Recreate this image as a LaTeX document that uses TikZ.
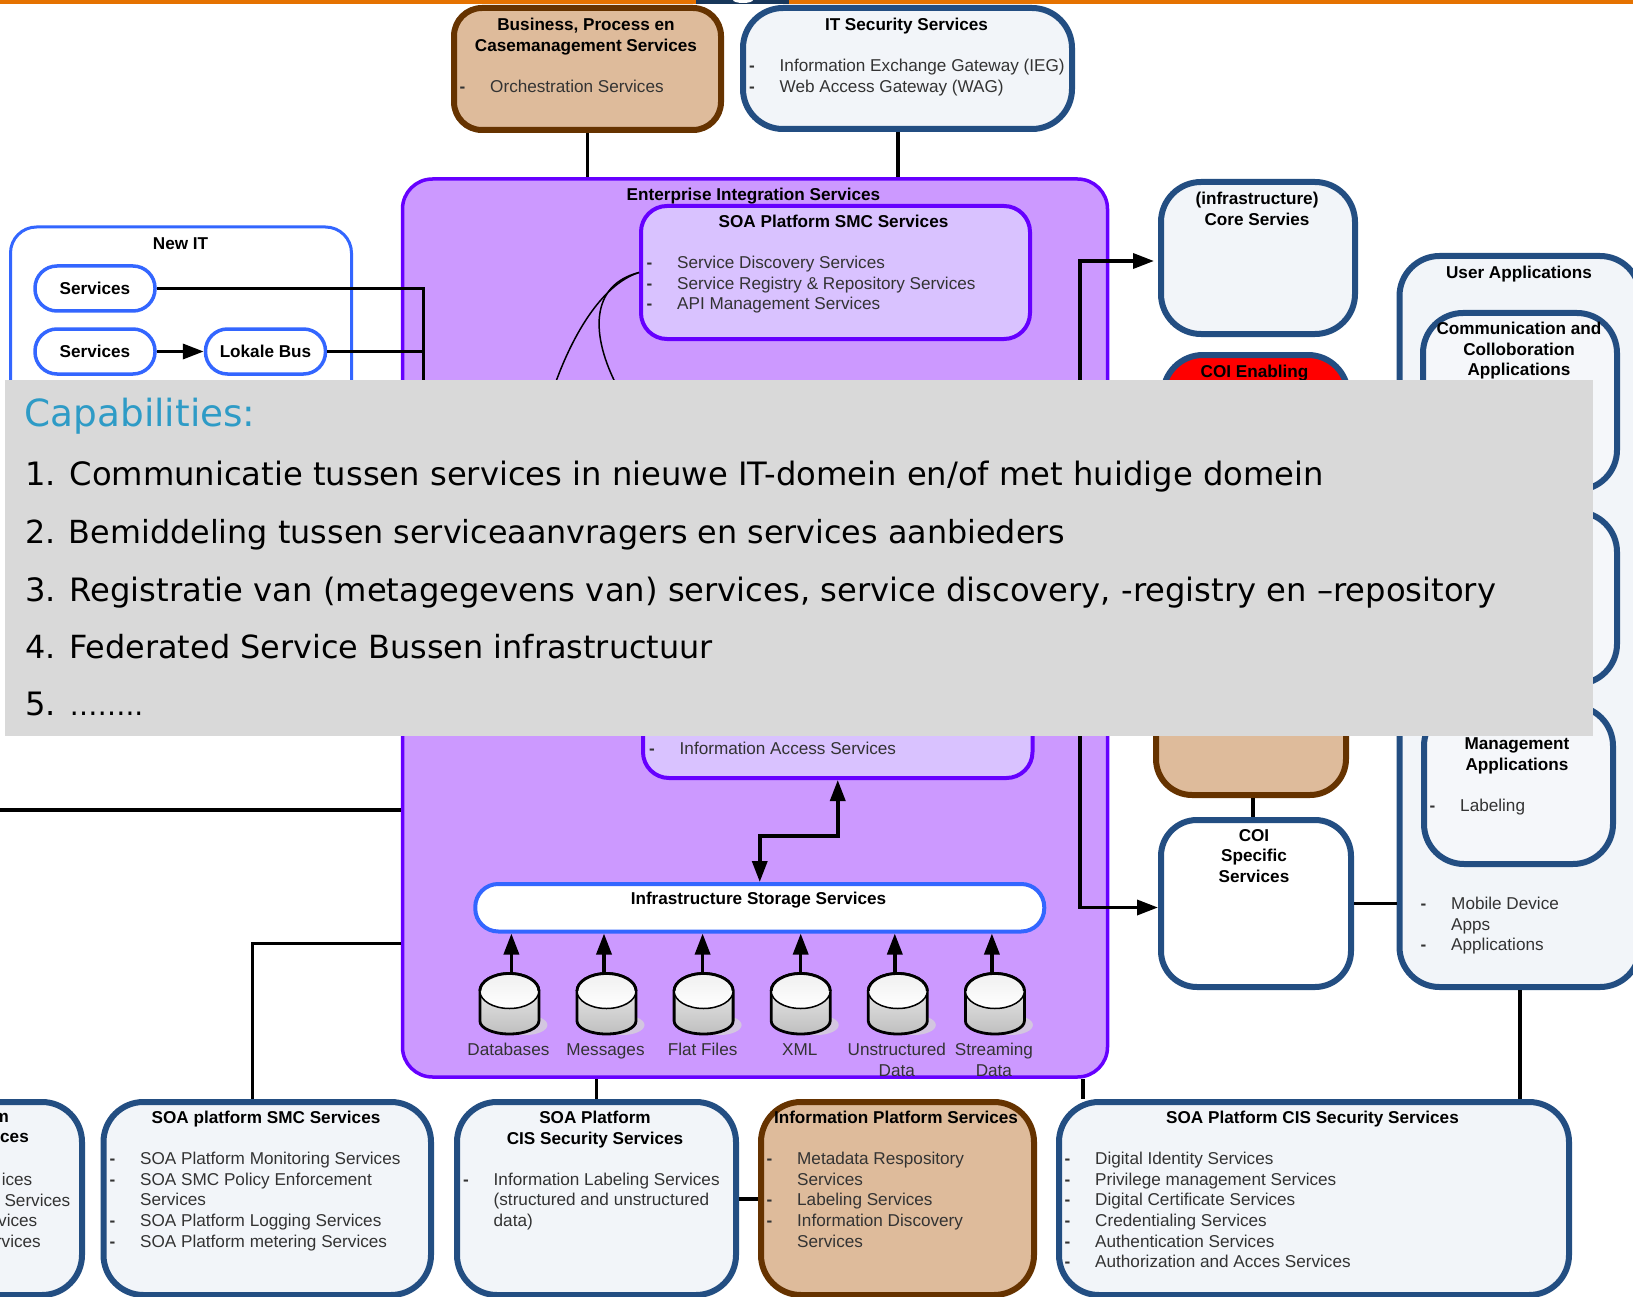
\documentclass[tikz,border=0pt]{standalone}
\usepackage{fontspec}
\setmainfont{Liberation Sans}
\newfontfamily\capfont{DejaVu Sans}
\usepackage{tikz}
\usetikzlibrary{positioning, arrows.meta}
\definecolor{topstrip}{HTML}{E57200}
\definecolor{navyline}{HTML}{234E82}
\definecolor{navyfill}{HTML}{F2F5F9}
\definecolor{brownline}{HTML}{663300}
\definecolor{brownfill}{HTML}{DEBB9B}
\definecolor{violetline}{HTML}{6600FF}
\definecolor{violetfill}{HTML}{CC99FF}
\definecolor{lilacfill}{HTML}{D9C2FF}
\definecolor{blueline}{HTML}{3366FF}
\definecolor{panelgray}{HTML}{D9D9D9}
\definecolor{captitle}{HTML}{2E9BC6}
\definecolor{drumshadow}{HTML}{D3C6E0}
\newcommand{\srvitem}[1]{\hspace*{-2.5pt}\makebox[30.5pt][l]{\textbf{-}}#1}
\newcommand{\srvcont}[1]{\hspace*{28pt}#1}
\newcommand{\dbdrum}[1]{
    \begin{scope}[shift={(#1.center)}]
        \fill[drumshadow] (16,21) ellipse [x radius=22pt, y radius=10pt];
        \shade[top color=gray!10, bottom color=gray!50, draw=black, line width=2.8pt] (-29.5,-13) -- (-29.5,17) arc (180:360:29.5pt and 13pt) -- (29.5,-13) arc (0:180:29.5pt and 17.5pt) -- cycle;
        \shade[top color=gray!12, bottom color=white, draw=black, line width=1.5pt] (0,-13) ellipse [x radius=29.5pt, y radius=17.5pt];
        \draw[black, line width=2.8pt] (-29.5,-13) arc (180:0:29.5pt and 17.5pt);
    \end{scope}
}
\tikzset{
>={Triangle[length=21pt,width=15pt]}, % the heavy black arrow heads
node distance=97.1pt, % spacing of the storage cylinders
navybox/.style={draw=navyline, fill=navyfill, line width=6pt, rounded corners=40pt},
brownbox/.style={draw=brownline, fill=brownfill, line width=6pt, rounded corners=30pt},
lilacbox/.style={draw=violetline, fill=lilacfill, line width=4pt, rounded corners=26pt},
pillbox/.style={draw=blueline, fill=white, line width=3.5pt, rounded corners=22pt, minimum width=120pt, minimum height=45pt, inner sep=0pt, font=\fontsize{17.15}{20.6}\selectfont\bfseries},
boxtitle/.style={anchor=north, align=center, inner sep=0pt, font=\fontsize{17.15}{20.6}\selectfont\bfseries},
srvlist/.style={anchor=north west, align=left, inner sep=0pt, text=black!80, font=\fontsize{17.15}{20.6}\selectfont},
cutlabel/.style={anchor=east, inner sep=0pt, text=black!80, font=\fontsize{17.15}{20.6}\selectfont},
dbcyl/.style={minimum width=59pt, minimum height=59pt, inner sep=0pt},
dblabel/.style={below=9.5pt of #1, align=center, inner sep=0pt, text=black!80, font=\fontsize{17.15}{20.6}\selectfont},
link/.style={line width=3.5pt},
flow/.style={->, line width=3.5pt},
capline/.style={anchor=base west, inner sep=0pt, font=\capfont\fontsize{32.2}{40}\selectfont},
}
\begin{document}
\begin{tikzpicture}[x=1pt, y=-1pt]
    \useasboundingbox (0,0) rectangle (1633,1297);
    \clip (0,0) rectangle (1633,1297);

    % top strip
    \fill[topstrip] (0,0) rectangle (1633,4);
    \fill[navyline!70!black] (696,0) rectangle (789,4);
    \fill[white] (733,0) arc (180:360:10pt and 3pt) -- cycle;

    % boxes along the top
    \node[brownbox, rounded corners=28pt, minimum width=267pt, minimum height=122pt] (business) at (587.5,69) {};
    \node[navybox, minimum width=329pt, minimum height=121pt] (itsec) at (907.5,68.5) {};
    \node[boxtitle] (businesstitle) at (586,18) {Business, Process en\\Casemanagement Services};
    \node[srvlist, text=black!80] (businesslist) at (462,80) {\srvitem{Orchestration Services}};
    \node[boxtitle] (itsectitle) at (906.5,18) {IT Security Services};
    \node[srvlist] (itseclist) at (751.5,59) {\srvitem{Information Exchange Gateway (IEG)}\\\srvitem{Web Access Gateway (WAG)}};

    % new IT
    \node[draw=blueline, fill=white, line width=3pt, rounded corners=26pt, minimum width=341pt, minimum height=223pt] (newit) at (181,338.5) {};
    \node[boxtitle] (newittitle) at (180.5,238) {New IT};
    \node[pillbox] (svca) at (95,288.5) {Services};
    \node[pillbox] (svcb) at (95,351.5) {Services};
    \node[pillbox, right of=svcb, node distance=170.5pt] (lokale) {Lokale Bus};

    % enterprise integration
    \node[draw=violetline, fill=violetfill, line width=3.5pt, rounded corners=30pt, minimum width=705pt, minimum height=898pt] (eis) at (755,628) {};
    \node[boxtitle] (eistitle) at (753.5,187.5) {Enterprise Integration Services};
    \node[lilacbox, minimum width=389pt, minimum height=133pt] (platsmc) at (835.5,272.5) {};
    \node[boxtitle] (platsmctitle) at (833.5,214.5) {SOA Platform SMC Services};
    \node[srvlist] (platsmclist) at (649,256) {\srvitem{Service Discovery Services}\\\srvitem{Service Registry \& Repository Services}\\\srvitem{API Management Services}};
    \node[lilacbox, minimum width=389.5pt, minimum height=138pt] (access) at (837.75,709) {};
    \node[srvlist] (accesslist) at (651.5,741.5) {\srvitem{Information Access Services}};

    \node[draw=blueline, fill=white, line width=4pt, rounded corners=23pt, minimum width=569pt, minimum height=47.5pt] (storage) at (759.75,907.75) {};
    \node[boxtitle] (storagetitle) at (758.5,892) {Infrastructure Storage Services};

    \node[dbcyl] (cyla) at (509.4,1004) {};
    \node[dbcyl, right of=cyla] (cylb) {};
    \node[dbcyl, right of=cylb] (cylc) {};
    \node[dbcyl, right of=cylc] (cyld) {};
    \node[dbcyl, right of=cyld] (cyle) {};
    \node[dbcyl, right of=cyle] (cylf) {};
    \dbdrum{cyla}
    \dbdrum{cylb}
    \dbdrum{cylc}
    \dbdrum{cyld}
    \dbdrum{cyle}
    \dbdrum{cylf}
    \node[dblabel=cyla, xshift=-1pt] (laba) {Databases};
    \node[dblabel=cylb, xshift=-1pt] (labb) {Messages};
    \node[dblabel=cylc, xshift=-1pt] (labc) {Flat Files};
    \node[dblabel=cyld, xshift=-1pt] (labd) {XML};
    \node[dblabel=cyle, xshift=-1pt] (labe) {Unstructured\\Data};
    \node[dblabel=cylf, xshift=-1pt] (labf) {Streaming\\Data};

    % middle column
    \node[navybox, minimum width=194pt, minimum height=152pt] (core) at (1258,258) {};
    \node[boxtitle] (coretitle) at (1257,192) {(infrastructure)\\Core Servies};
    \node[navybox, fill=red, minimum width=185pt, minimum height=125pt] (coienable) at (1255.5,417.5) {};
    \node[boxtitle] (coienabletitle) at (1254.5,365) {COI Enabling};
    \node[brownbox, rounded corners=36pt, minimum width=190pt, minimum height=196pt] (coibrown) at (1251,697) {};
    \node[navybox, fill=white, rounded corners=36pt, minimum width=190pt, minimum height=167pt] (coispec) at (1256,903.5) {};
    \node[boxtitle] (coispectitle) at (1254,829) {COI\\Specific\\Services};

    % user applications
    \node[navybox, minimum width=240.5pt, minimum height=731pt] (userapp) at (1519.75,621.5) {};
    \node[boxtitle] (userapptitle) at (1519,266) {User Applications};
    \node[navybox, fill=navyfill!90!navyline!30, minimum width=194pt, minimum height=177pt] (comm) at (1520,401.5) {};
    \node[boxtitle] (commtitle) at (1519,322) {Communication and\\Colloboration\\Applications};
    \node[navybox, fill=navyfill!90!navyline!30, minimum width=194pt, minimum height=172pt] (midapp) at (1520,598) {};
    \node[navybox, fill=navyfill!90!navyline!30, minimum width=189pt, minimum height=158pt] (mgmt) at (1518.5,785) {};
    \node[boxtitle] (mgmttitle) at (1517,737.5) {Management\\Applications};
    \node[srvlist] (mgmtlist) at (1432,798.5) {\srvitem{Labeling}};
    \node[srvlist] (userapplist) at (1423,897) {\srvitem{Mobile Device}\\\srvcont{Apps}\\\srvitem{Applications}};

    % bottom row
    \node[navybox, minimum width=232pt, minimum height=193pt] (cutbox) at (-34,1198.5) {};
    \node[cutlabel, font=\fontsize{17.15}{20.6}\selectfont\bfseries, text=black] (cuta) at (9,1117.6) {m};
    \node[cutlabel, font=\fontsize{17.15}{20.6}\selectfont\bfseries, text=black] (cutb) at (29,1138) {ces};
    \node[cutlabel] (cutc) at (32.5,1179.7) {ices};
    \node[cutlabel] (cutd) at (70.5,1200) {Services};
    \node[cutlabel] (cute) at (37.5,1220.5) {vices};
    \node[cutlabel] (cutf) at (41,1241) {rvices};

    \node[navybox, minimum width=327.5pt, minimum height=193pt] (smcsvc) at (267.25,1198.5) {};
    \node[boxtitle] (smcsvctitle) at (266,1111) {SOA platform SMC Services};
    \node[srvlist] (smcsvclist) at (112,1152) {\srvitem{SOA Platform Monitoring Services}\\\srvitem{SOA SMC Policy Enforcement}\\\srvcont{Services}\\\srvitem{SOA Platform Logging Services}\\\srvitem{SOA Platform metering Services}};

    \node[navybox, minimum width=279pt, minimum height=193pt] (cisl) at (596.5,1198.5) {};
    \node[boxtitle] (cisltitle) at (595,1111) {SOA Platform\\CIS Security Services};
    \node[srvlist] (cisllist) at (465.5,1172.7) {\srvitem{Information Labeling Services}\\\srvcont{(structured and unstructured}\\\srvcont{data)}};

    \node[brownbox, rounded corners=40pt, minimum width=273pt, minimum height=193pt] (info) at (897.5,1198.5) {};
    \node[boxtitle] (infotitle) at (896,1111) {Information Platform Services};
    \node[srvlist] (infolist) at (769,1152) {\srvitem{Metadata Respository}\\\srvcont{Services}\\\srvitem{Labeling Services}\\\srvitem{Information Discovery}\\\srvcont{Services}};

    \node[navybox, minimum width=510pt, minimum height=193pt] (cisr) at (1314,1198.5) {};
    \node[boxtitle] (cisrtitle) at (1312.5,1111) {SOA Platform CIS Security Services};
    \node[srvlist] (cisrlist) at (1067,1152) {\srvitem{Digital Identity Services}\\\srvitem{Privilege management Services}\\\srvitem{Digital Certificate Services}\\\srvitem{Credentialing Services}\\\srvitem{Authentication Services}\\\srvitem{Authorization and Acces Services}};

    % connectors
    \coordinate (busjoin) at (423.6,520);
    \coordinate (coijoin) at (1080,560);
    \coordinate (curvea) at (553,390);
    \coordinate (curveb) at (618,388);
    \coordinate (leftend) at (0,810);

    \draw[link] (business.south) -- (business.south |- eis.north);
    \draw[link] ([xshift=-9.5pt]itsec.south) -- ([xshift=-9.5pt]itsec.south |- eis.north);
    \draw[link] (svca.east) -| (busjoin);
    \draw[link] (lokale.east) -- (lokale.east -| busjoin);
    \draw[flow] (svcb.east) -- (lokale.west);
    \draw[line width=1.5pt] (platsmc.west) .. controls (600,285) and (570,340) .. (curvea);
    \draw[line width=1.5pt] (platsmc.west) .. controls (590,285) and (590,335) .. (curveb);
    \draw[flow, shorten >=4pt] (coijoin) |- ([yshift=-3pt]core.west);
    \draw[flow] (coijoin) |- ([yshift=-4pt]coispec.west);
    \draw[link] (leftend) -- (leftend -| eis.west);
    \draw[link] ([xshift=-14.7pt]smcsvc.north) |- ([yshift=-315.4pt]eis.west);
    \draw[<->, line width=3.5pt] (storage.north) -- ++(0,-46) -| (access.south);
    \draw[link] (cisl.north) -- (cisl.north |- eis.south);
    \draw[link] ([xshift=328pt]eis.south) -- ([xshift=328pt]eis.south |- cisr.north);
    \draw[link, line width=4pt] (cisl.east) -- (info.west);
    \draw[link] ([xshift=2pt]coibrown.south) -- ([xshift=2pt]coibrown.south |- coispec.north);
    \draw[link] (coispec.east) -- (coispec.east -| userapp.west);
    \draw[link] (userapp.south) -- (userapp.south |- cisr.north);
    \draw[flow] ([xshift=2pt]cyla.north) -- ([xshift=2pt]cyla.north |- storage.south);
    \draw[flow] ([xshift=-2.5pt]cylb.north) -- ([xshift=-2.5pt]cylb.north |- storage.south);
    \draw[flow] ([xshift=-1pt]cylc.north) -- ([xshift=-1pt]cylc.north |- storage.south);
    \draw[flow] (cyld.north) -- (cyld.north |- storage.south);
    \draw[flow] ([xshift=-3pt]cyle.north) -- ([xshift=-3pt]cyle.north |- storage.south);
    \draw[flow] ([xshift=-3pt]cylf.north) -- ([xshift=-3pt]cylf.north |- storage.south);

    % capabilities panel
    \node[fill=panelgray, minimum width=1587.5pt, minimum height=356pt, inner sep=0pt] (panel) at (798.75,558) {};
    \node[capline, text=captitle, font=\capfont\fontsize{37.4}{42}\selectfont] (captitle) at (24.5,426) {Capabilities:};
    \node[capline] (capa) at (25,485.7) {1. Communicatie tussen services in nieuwe IT-domein en/of met huidige domein};
    \node[capline, font=\capfont\fontsize{31.8}{40}\selectfont] (capb) at (25,543.3) {2. Bemiddeling tussen serviceaanvragers en services aanbieders};
    \node[capline] (capc) at (25,601.7) {3. Registratie van (metagegevens van) services, service discovery, -registry en –repository};
    \node[capline, font=\capfont\fontsize{31.9}{40}\selectfont] (capd) at (25,658.3) {4. Federated Service Bussen infrastructuur};
    \node[capline] (cape) at (25,715.7) {5. {\fontsize{28}{40}\selectfont ……..}};
\end{tikzpicture}
\end{document}
